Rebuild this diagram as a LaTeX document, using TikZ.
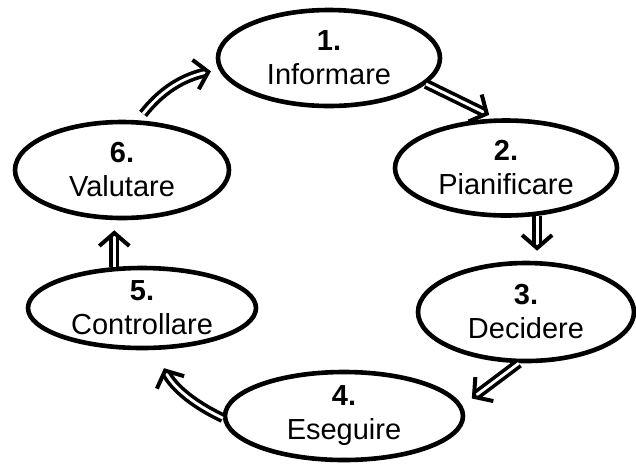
\documentclass[tikz,border=0pt]{standalone}
\usepackage{fontspec}
\setmainfont{Liberation Sans}
\usetikzlibrary{shapes.geometric,arrows.meta}

\tikzset{
  phase/.style={ellipse,draw,line width=2.3pt,inner sep=0pt,align=center,
    font=\fontsize{14.5}{17}\selectfont},
  flow/.style={double,double distance=1.4pt,line width=1.8pt,
    -{Straight Barb[length=6.5pt,width=15pt,line width=2pt]}}
}
\newcommand{\phasenum}[1]{{\bfseries #1}}

\begin{document}
\begin{tikzpicture}[x=0.5pt,y=-0.5pt]
\useasboundingbox (0,0) rectangle (636,467);
%First phase
  \node[phase,minimum width=111pt,minimum height=48pt] (inf) at (329,58) {\phasenum{1.}\\Informare};
%Second phase
  \node[phase,minimum width=111pt,minimum height=47.5pt] (pia) at (506,168) {\phasenum{2.}\\Pianificare};
%Third phase
  \node[phase,minimum width=108pt,minimum height=49pt] (dec) at (526,312) {\phasenum{3.}\\Decidere};
%Fourth phase
  \node[phase,minimum width=119pt,minimum height=44pt] (ese) at (344,416) {\phasenum{4.}\\Eseguire};
%Fifth phase
  \node[phase,minimum width=114pt,minimum height=40pt] (con) at (142,308) {\phasenum{5.}\\Controllare};
%Sixth phase
  \node[phase,minimum width=107pt,minimum height=48pt] (val) at (122,170) {\phasenum{6.}\\Valutare};
% cycle
  \draw[flow,shorten <=4pt,shorten >=4pt] (val.72) to[bend left=20] (inf.186);
  \draw[flow,shorten >=4pt] (inf.-15) -- (pia.101);
  \draw[flow,shorten >=5pt] (pia.-57) -- (pia.-57 |- dec.north);
  \draw[flow,shorten >=6pt] (dec.-98) -- (ese.5);
  \draw[flow,shorten >=10pt] (ese.181) to[bend left=20] (con.-72);
  \draw[flow,shorten >=5pt] (con.124) -- (con.124 |- val.south);
\end{tikzpicture}
\end{document}
